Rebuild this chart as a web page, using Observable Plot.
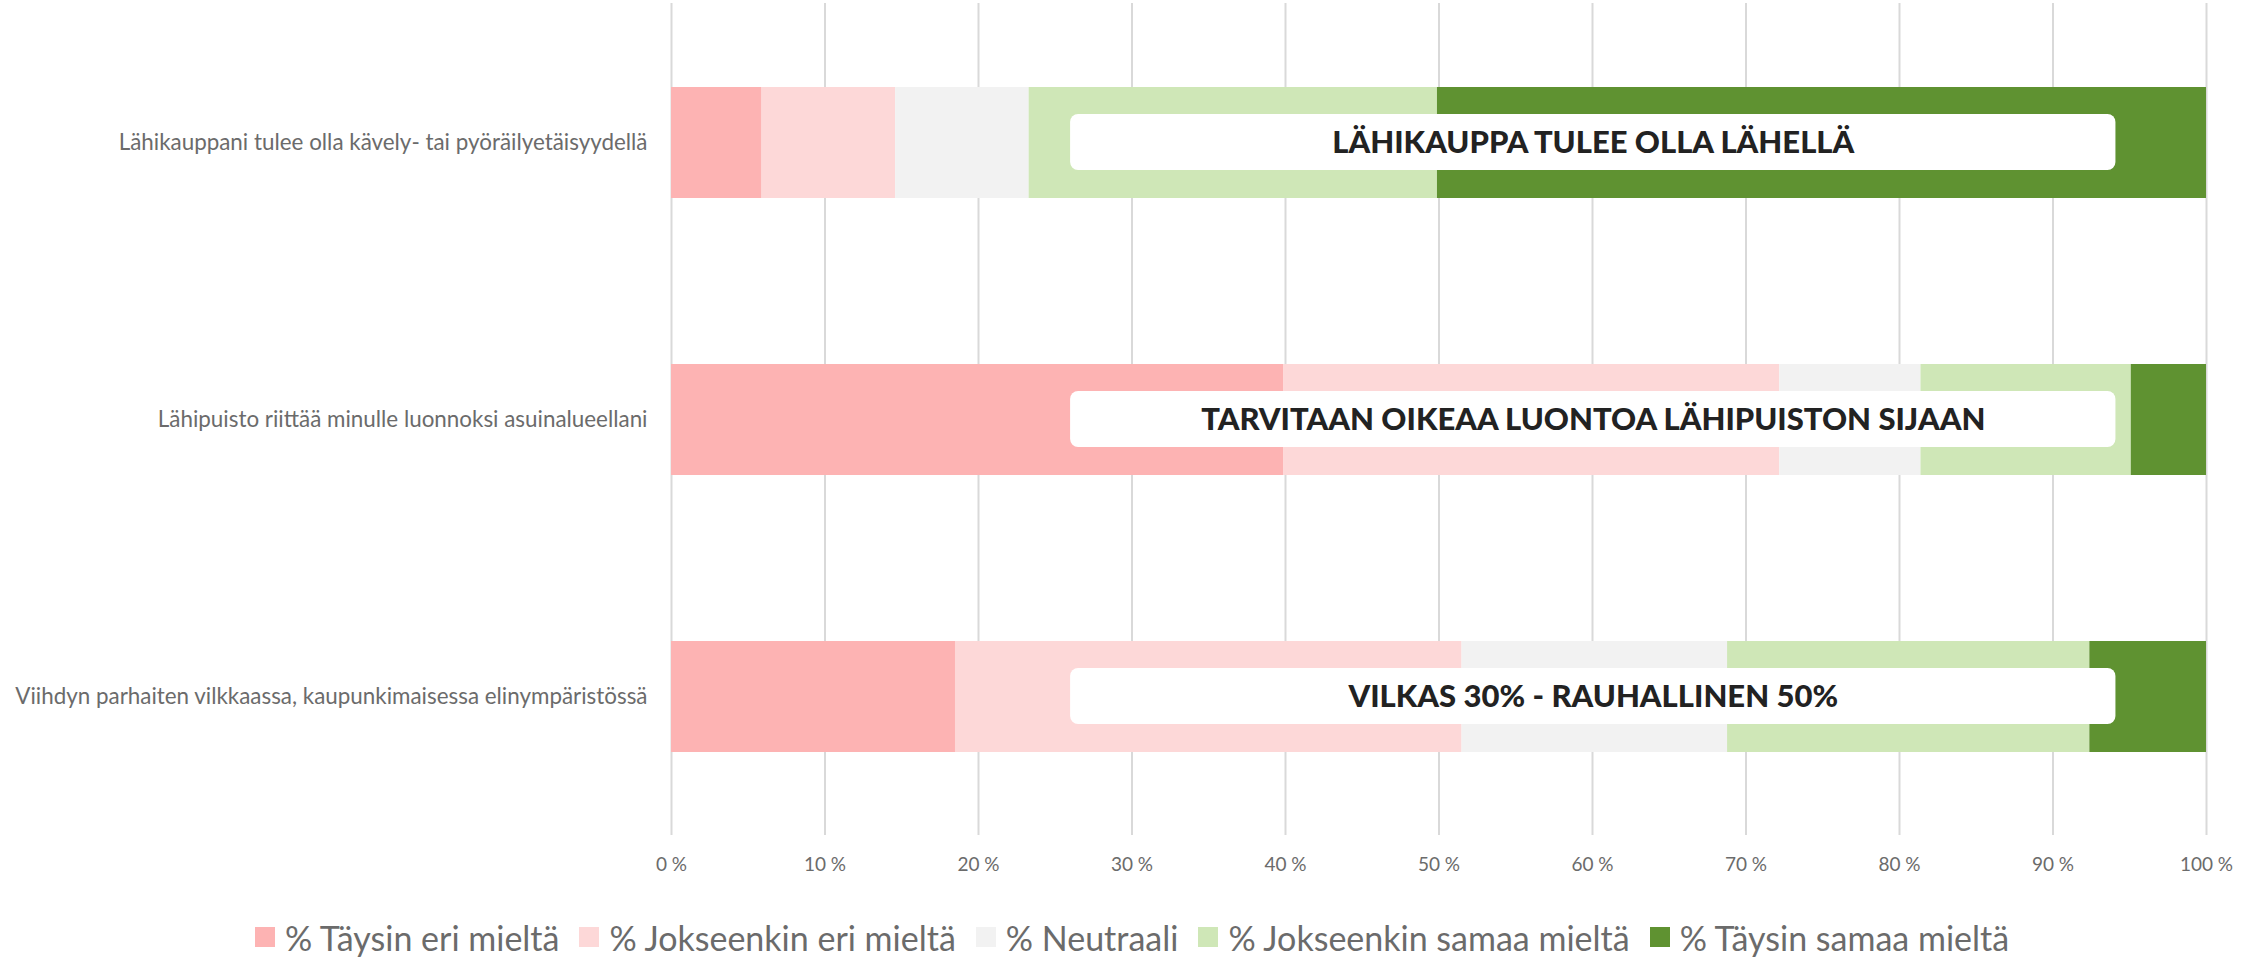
<!DOCTYPE html>
<html>
<head>
<meta charset="utf-8">
<script src="https://cdn.jsdelivr.net/npm/d3@7"></script>
<script src="https://cdn.jsdelivr.net/npm/@observablehq/plot@0.6"></script>
<style>
  html, body { margin: 0; padding: 0; background: #fff; }
  #chart { width: 2264px; height: 905px; }
  #legend { display: flex; justify-content: center; align-items: center; font-family: Lato, "Noto Sans", sans-serif; font-size: 34px; color: #6b6b6b; height: 56px; margin-top: 4px; padding-left: 0px; }
  .item { display: flex; align-items: center; margin: 0 10px; }
  .sw { width: 20px; height: 20px; margin-right: 10px; }
</style>
</head>
<body>
<div id="chart"></div>
<div id="legend"></div>
<script>
const categories = [
  "Lähikauppani tulee olla kävely- tai pyöräilyetäisyydellä",
  "Lähipuisto riittää minulle luonnoksi asuinalueellani",
  "Viihdyn parhaiten vilkkaassa, kaupunkimaisessa elinympäristössä"
];
const series = ["% Täysin eri mieltä", "% Jokseenkin eri mieltä", "% Neutraali", "% Jokseenkin samaa mieltä", "% Täysin samaa mieltä"];
const colors = ["#fdb3b3", "#fdd8d8", "#f2f2f2", "#cfe7b7", "#5f9231"];
const taysinEri     = [5.9, 39.9, 18.5];
const jokseenkinEri = [8.7, 32.3, 33.0];
const neutraali     = [8.7, 9.2, 17.3];
const jokseenkinSamaa = [26.6, 13.7, 23.6];
const taysinSamaa   = [50.1, 4.9, 7.6];
const annotations = [
  "LÄHIKAUPPA TULEE OLLA LÄHELLÄ",
  "TARVITAAN OIKEAA LUONTOA LÄHIPUISTON SIJAAN",
  "VILKAS 30% - RAUHALLINEN 50%"
];
const xTicks = [0, 10, 20, 30, 40, 50, 60, 70, 80, 90, 100];
const boxStart = 26, boxEnd = 94.1;

const valueSets = [taysinEri, jokseenkinEri, neutraali, jokseenkinSamaa, taysinSamaa];
const data = [];
series.forEach((s, si) => categories.forEach((c, ci) => data.push({category: c, series: s, value: valueSets[si][ci]})));
const notes = categories.map((c, i) => ({category: c, text: annotations[i], x1: boxStart, x2: boxEnd}));

const plot = Plot.plot({
  width: 2264,
  height: 905,
  marginLeft: 671,
  marginRight: 58,
  marginTop: 3,
  marginBottom: 70,
  style: {fontFamily: "Lato, 'Noto Sans', sans-serif", background: "#fff"},
  x: {domain: [0, 100], ticks: xTicks},
  y: {domain: categories, paddingInner: 0.6, paddingOuter: 0.3, label: null},
  color: {domain: series, range: colors},
  marks: [
    Plot.gridX(xTicks, {stroke: "#d9d9d9", strokeOpacity: 1, strokeWidth: 2}),
    Plot.barX(data, Plot.stackX({x: "value", y: "category", fill: "series", order: series})),
    Plot.rect(notes, {x1: "x1", x2: "x2", y: "category", fill: "#ffffff", rx: 8, insetTop: 27, insetBottom: 28}),
    Plot.text(notes, {x: d => (d.x1 + d.x2) / 2, y: "category", text: "text", fill: "#222", fontSize: 31, fontWeight: 900, letterSpacing: "0.7px"}),
    Plot.axisY({tickSize: 0, tickPadding: 24, fontSize: 22.4, fill: "#6b6b6b", label: null}),
    Plot.axisX({ticks: xTicks, tickSize: 0, tickPadding: 22, fontSize: 19, fill: "#6b6b6b", tickFormat: d => d + " %", label: null})
  ]
});
document.getElementById("chart").appendChild(plot);

const legend = document.getElementById("legend");
series.forEach((s, i) => {
  const item = document.createElement("div");
  item.className = "item";
  const sw = document.createElement("div");
  sw.className = "sw";
  sw.style.background = colors[i];
  const t = document.createElement("span");
  t.textContent = s;
  item.appendChild(sw);
  item.appendChild(t);
  legend.appendChild(item);
});
</script>
</body>
</html>
